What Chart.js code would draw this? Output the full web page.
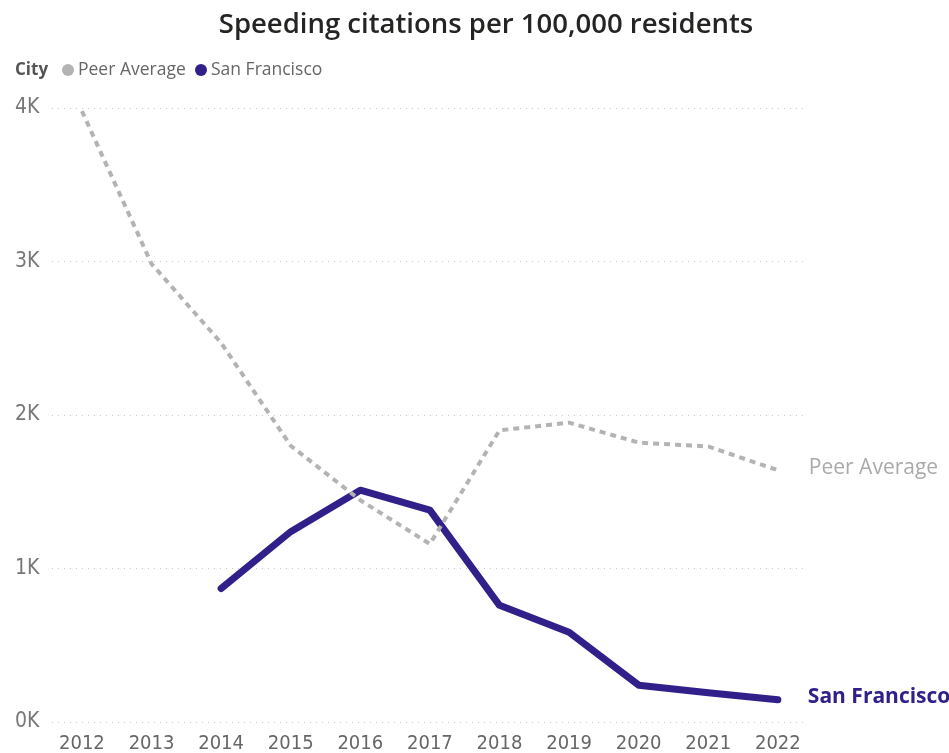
<!DOCTYPE html>
<html>
<head>
<meta charset="utf-8">
<script src="https://cdn.jsdelivr.net/npm/chart.js@4.4.1/dist/chart.umd.min.js"></script>
<style>
  html, body { margin: 0; padding: 0; background: #fff; }
  #wrap { width: 949px; height: 753px; position: relative; }
</style>
</head>
<body>
<div id="wrap"><canvas id="citations"></canvas></div>
<script>
const years = [2012, 2013, 2014, 2015, 2016, 2017, 2018, 2019, 2020, 2021, 2022];
const peerAverage = [3980, 2985, 2470, 1800, 1445, 1160, 1900, 1950, 1820, 1795, 1640];
const sanFrancisco = [null, null, 870, 1240, 1510, 1380, 760, 585, 240, 190, 145];
const yTicks = [0, 1000, 2000, 3000, 4000];

const TITLE = "Speeding citations per 100,000 residents";
const PURPLE = "#31208a";
const GRAY = "#b3b3b3";
const UI_FONT = "'Segoe UI', 'Open Sans', sans-serif";
const AXIS_FONT = "'Liberation Sans Narrow', 'DejaVu Sans Condensed', sans-serif";

function points(values) {
  return years.map((y, i) => ({ x: y, y: values[i] }));
}

// title, legend row ("City" + two dots) and the labels at the line ends
const annotate = {
  id: "annotate",
  afterDraw(chart) {
    const ctx = chart.ctx;
    ctx.save();
    ctx.textBaseline = "middle";

    ctx.textAlign = "center";
    ctx.font = "600 27.5px " + UI_FONT;
    ctx.fillStyle = "#252423";
    ctx.fillText(TITLE, 486, 25);

    ctx.textAlign = "left";
    const ly = 70;
    ctx.font = "bold 17px " + UI_FONT;
    ctx.fillStyle = "#555";
    ctx.fillText("City", 15, ly);
    const items = [["Peer Average", GRAY, 68], ["San Francisco", PURPLE, 201]];
    ctx.font = "17.5px " + UI_FONT;
    items.forEach(([label, color, x]) => {
      ctx.beginPath();
      ctx.arc(x, ly, 6, 0, Math.PI * 2);
      ctx.fillStyle = color;
      ctx.fill();
      ctx.fillStyle = "#666";
      ctx.fillText(label, x + 10, ly);
    });

    const xs = chart.scales.x, ys = chart.scales.y;
    const last = years.length - 1;
    const endX = xs.getPixelForValue(years[last]);
    ctx.font = "21px " + UI_FONT;
    ctx.fillStyle = "#aaa";
    ctx.fillText("Peer Average", endX + 31, ys.getPixelForValue(peerAverage[last]) - 2);
    ctx.font = "bold 21px " + UI_FONT;
    ctx.fillStyle = PURPLE;
    ctx.fillText("San Francisco", endX + 30, ys.getPixelForValue(sanFrancisco[last]) - 3);
    ctx.restore();
  }
};

new Chart(document.getElementById("citations"), {
  type: "line",
  data: {
    datasets: [
      {
        label: "Peer Average",
        data: points(peerAverage),
        borderColor: GRAY,
        borderWidth: 4,
        borderDash: [6, 5],
        pointRadius: 0,
        tension: 0,
      },
      {
        label: "San Francisco",
        data: points(sanFrancisco),
        borderColor: PURPLE,
        borderWidth: 7,
        borderCapStyle: "round",
        borderJoinStyle: "round",
        pointRadius: 0,
        tension: 0,
      },
    ],
  },
  options: {
    responsive: true,
    maintainAspectRatio: false,
    animation: false,
    layout: { padding: { left: 15, right: 144, top: 108, bottom: 0 } },
    plugins: {
      legend: { display: false },
      tooltip: { enabled: false },
      title: { display: false },
    },
    scales: {
      x: {
        type: "linear",
        min: 2011.57,
        max: 2022.39,
        afterBuildTicks: (s) => { s.ticks = years.map((v) => ({ value: v })); },
        afterFit: (s) => { s.height = 31; },
        grid: { display: false },
        border: { display: false },
        ticks: {
          color: "#666",
          font: { family: AXIS_FONT, size: 20 },
          padding: 2,
          autoSkip: false,
          maxRotation: 0,
          callback: (v) => String(v),
        },
      },
      y: {
        min: 0,
        max: 4000,
        afterBuildTicks: (s) => { s.ticks = yTicks.map((v) => ({ value: v })); },
        afterFit: (s) => { s.width = 37; },
        grid: { color: "#c8c8c8", drawTicks: false, lineWidth: 1 },
        border: { display: false, dash: [1, 5] },
        ticks: {
          color: "#777",
          font: { family: AXIS_FONT, size: 21 },
          padding: 0,
          crossAlign: "far",
          callback: (v) => v / 1000 + "K",
        },
      },
    },
  },
  plugins: [annotate],
});
</script>
</body>
</html>
